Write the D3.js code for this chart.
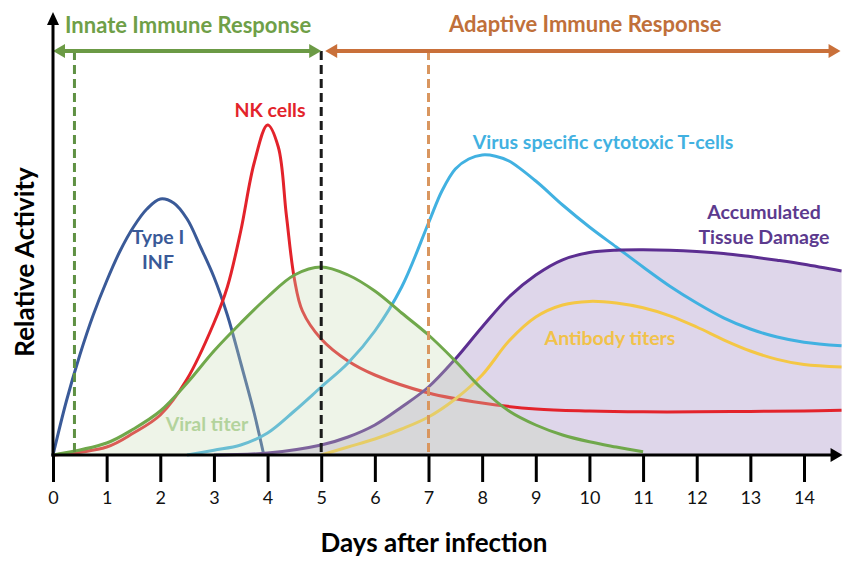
<!DOCTYPE html>
<html>
<head>
<meta charset="utf-8">
<script src="https://cdn.jsdelivr.net/npm/d3@7"></script>
<style>
  body { margin: 0; background: #fff; }
  svg text { font-family: Lato, "Open Sans", sans-serif; }
</style>
</head>
<body>
<div class="chart"></div>
<script>
// values, relative activity 0..100
const tickDays = [0, 1, 2, 3, 4, 5, 6, 7, 8, 9, 10, 11, 12, 13, 14];

const infDays = [0, 0.25, 0.5, 0.75, 1, 1.25, 1.5, 1.75, 2, 2.25, 2.5, 2.75, 3, 3.25, 3.5, 3.75, 3.93];
const infVals = [0, 13.5, 25, 35, 43.5, 51, 57, 61.5, 64, 63, 59, 52, 44.5, 35, 23, 10.5, 0];

const nkDays = [0, 1, 1.5, 2, 2.5, 3, 3.25, 3.5, 3.75, 4, 4.2, 4.35, 4.5, 4.65, 5, 5.5, 6, 7, 8, 9, 10, 11, 12, 13, 14, 14.7];
const nkVals = [0, 2, 5.5, 10, 19, 33, 42, 56, 73, 82.5, 77, 60, 44, 36, 29, 23.5, 20, 15.5, 13, 11.5, 11, 10.8, 10.8, 10.9, 11, 11.2];

const viralDays = [0, 1, 1.5, 2, 2.5, 3, 3.5, 4, 4.5, 5, 5.5, 6, 6.5, 7, 7.5, 8, 8.5, 9, 9.5, 10, 10.5, 11];
const viralVals = [0, 3, 6.5, 11, 18, 26, 33, 39.5, 45, 47, 45, 41, 35.5, 30, 23.5, 16.5, 11, 7.5, 5, 3.3, 2, 0.8];

const tcellDays = [2.5, 3, 3.5, 4, 4.5, 5, 5.5, 6, 6.5, 7, 7.25, 7.5, 7.75, 8, 8.25, 8.5, 9, 9.5, 10, 10.5, 11, 11.5, 12, 12.5, 13, 13.5, 14, 14.7];
const tcellVals = [0, 1.2, 2.5, 5.5, 11, 17, 23, 31, 42, 58, 66, 71.5, 74, 75, 74.7, 73.5, 68.5, 62.5, 57, 52, 47, 42.2, 38, 34.3, 31.5, 29.5, 28.2, 27.3];

const damageDays = [3, 4, 5, 5.5, 6, 6.5, 7, 7.5, 8, 8.5, 9, 9.5, 10, 10.5, 11, 11.5, 12, 12.5, 13, 13.5, 14, 14.7];
const damageVals = [0, 0.5, 2.5, 4.5, 7.5, 12, 17, 24, 32, 39.5, 45, 48.8, 50.6, 51.2, 51.3, 51.2, 50.9, 50.4, 49.6, 48.7, 47.7, 46];

const antibodyDays = [5, 5.5, 6, 6.5, 7, 7.5, 8, 8.5, 9, 9.5, 10, 10.5, 11, 11.5, 12, 12.5, 13, 13.5, 14, 14.7];
const antibodyVals = [0, 2, 4, 6.5, 9.5, 14, 20, 28.5, 34.5, 37.5, 38.4, 38, 36.8, 34.8, 32, 28.8, 26, 23.9, 22.6, 22];

const markerDays = { innate: 0.4, switch: 5, adaptive: 7 };

const w = 864;
const h = 568;

const x = d3.scaleLinear().domain([0, 14]).range([53, 804]);
const y = d3.scaleLinear().domain([0, 100]).range([455, 55]);
const xEnd = x(14.7);
const arrowY = 51;

const svg = d3.select('.chart')
              .append('svg')
              .attr('width', w)
              .attr('height', h);

const zip = (xs, ys) => xs.map((d, i) => [d, ys[i]]);

const curve = d3.curveCatmullRom.alpha(0.5);

const line = d3.line()
               .x(d => x(d[0]))
               .y(d => Math.min(y(0), y(d[1])))
               .curve(curve);

const area = d3.area()
               .x(d => x(d[0]))
               .y0(y(0))
               .y1(d => y(d[1]))
               .curve(curve);

// tissue damage fill sits under everything
svg.append('path')
   .attr('d', area(zip(damageDays, damageVals)))
   .attr('fill', '#ded6ea');

const series = [
  { days: infDays, vals: infVals, color: '#3a5a98' },
  { days: nkDays, vals: nkVals, color: '#e3232b' },
  { days: tcellDays, vals: tcellVals, color: '#41b1e1' },
  { days: damageDays, vals: damageVals, color: '#5c2e91' },
  { days: antibodyDays, vals: antibodyVals, color: '#f4c745' }
];

series.forEach(s => {
  svg.append('path')
     .attr('d', line(zip(s.days, s.vals)))
     .attr('fill', 'none')
     .attr('stroke', s.color)
     .attr('stroke-width', 3);
});

// viral titer fill is translucent and washes out the lines under it
svg.append('path')
   .attr('d', area(zip(viralDays, viralVals)))
   .attr('fill', 'rgb(200,220,180)')
   .attr('fill-opacity', 0.31);

svg.append('path')
   .attr('d', line(zip(viralDays, viralVals)))
   .attr('fill', 'none')
   .attr('stroke', '#70a84b')
   .attr('stroke-width', 3);

// dashed phase markers
const dashed = [
  { day: markerDays.innate, color: '#5f9143' },
  { day: markerDays.switch, color: '#1a1a1a' },
  { day: markerDays.adaptive, color: '#d9965f' }
];
dashed.forEach(m => {
  svg.append('line')
     .attr('x1', x(m.day)).attr('x2', x(m.day))
     .attr('y1', arrowY).attr('y2', y(0))
     .attr('stroke', m.color)
     .attr('stroke-width', 3)
     .attr('stroke-dasharray', '9,5');
});

// phase arrows
function arrowHead(tipX, tipY, dir, color) {
  const len = 12, half = 7;
  svg.append('path')
     .attr('d', `M${tipX},${tipY} L${tipX - dir * len},${tipY - half} L${tipX - dir * len},${tipY + half} Z`)
     .attr('fill', color);
}

svg.append('line')
   .attr('x1', x(0) + 6).attr('x2', x(5) - 6)
   .attr('y1', arrowY).attr('y2', arrowY)
   .attr('stroke', '#6b9a45').attr('stroke-width', 4);
arrowHead(x(0), arrowY, -1, '#6b9a45');
arrowHead(x(5), arrowY, 1, '#6b9a45');

svg.append('line')
   .attr('x1', x(5) + 10).attr('x2', xEnd - 6)
   .attr('y1', arrowY).attr('y2', arrowY)
   .attr('stroke', '#c9703a').attr('stroke-width', 4);
arrowHead(x(5) + 4, arrowY, -1, '#c9703a');
arrowHead(xEnd - 1, arrowY, 1, '#c9703a');

svg.append('text')
   .attr('x', 65).attr('y', 33)
   .style('font-size', '22px').style('font-weight', 'bold')
   .attr('fill', '#6f9f48')
   .text('Innate Immune Response');

svg.append('text')
   .attr('x', 449).attr('y', 32)
   .style('font-size', '22px').style('font-weight', 'bold')
   .attr('fill', '#c0703a')
   .text('Adaptive Immune Response');

// axes
const xAxis = d3.axisBottom(x)
                .tickValues(tickDays)
                .tickSize(27)
                .tickPadding(9);

const gx = svg.append('g')
              .attr('transform', `translate(0, ${y(0)})`)
              .call(xAxis);
gx.select('.domain').remove();
gx.selectAll('.tick line').attr('stroke', '#000').attr('stroke-width', 3);
gx.selectAll('.tick text')
  .style('font-size', '18px')
  .style('font-family', 'Lato, sans-serif')
  .attr('fill', '#111');

svg.append('line')
   .attr('x1', x(0) - 1.5).attr('x2', xEnd - 8)
   .attr('y1', y(0)).attr('y2', y(0))
   .attr('stroke', '#000').attr('stroke-width', 3);
arrowHead(xEnd + 1, y(0), 1, '#000');

svg.append('line')
   .attr('x1', x(0)).attr('x2', x(0))
   .attr('y1', y(0) + 1.5).attr('y2', 22)
   .attr('stroke', '#000').attr('stroke-width', 3);
svg.append('path')
   .attr('d', `M${x(0)},12 L${x(0) - 6},25 L${x(0) + 6},25 Z`)
   .attr('fill', '#000');

svg.append('text')
   .attr('transform', 'rotate(-90)')
   .attr('x', -262).attr('y', 34)
   .style('text-anchor', 'middle')
   .style('font-size', '26px').style('font-weight', 'bold')
   .text('Relative Activity');

svg.append('text')
   .attr('x', 434).attr('y', 552)
   .style('text-anchor', 'middle')
   .style('font-size', '26px').style('font-weight', 'bold')
   .text('Days after infection');

// curve labels
const labels = [
  { lines: ['NK cells'], x: 270, y: 117, color: '#e3232b' },
  { lines: ['Type I', 'INF'], x: 158, y: 244, color: '#3a5a98' },
  { lines: ['Viral titer'], x: 207, y: 431, color: '#b3d39c' },
  { lines: ['Virus specific cytotoxic T-cells'], x: 603, y: 149, color: '#41b1e1' },
  { lines: ['Accumulated', 'Tissue Damage'], x: 764, y: 219, color: '#5c3a8e' },
  { lines: ['Antibody titers'], x: 610, y: 345, color: '#f1c24a' }
];
labels.forEach(l => {
  const t = svg.append('text')
               .attr('x', l.x).attr('y', l.y)
               .style('text-anchor', 'middle')
               .style('font-size', '19.5px').style('font-weight', 'bold')
               .attr('fill', l.color);
  l.lines.forEach((s, i) => {
    t.append('tspan').attr('x', l.x).attr('dy', i === 0 ? 0 : 25).text(s);
  });
});
</script>
</body>
</html>
